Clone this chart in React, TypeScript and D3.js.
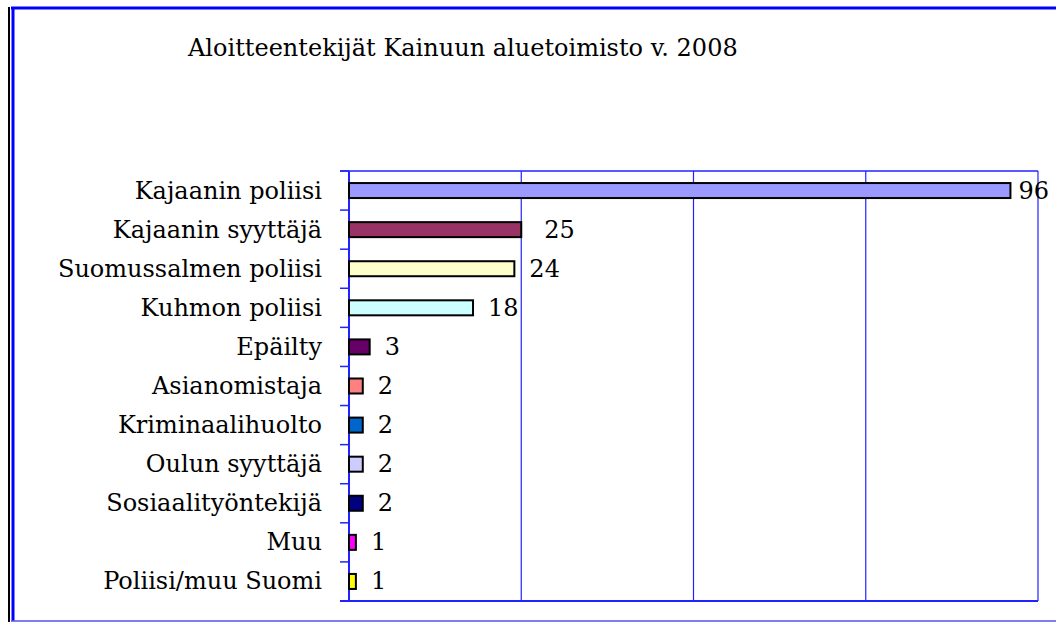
import React from "react";
import * as d3 from "d3";

const categories = [
  "Kajaanin poliisi",
  "Kajaanin syyttäjä",
  "Suomussalmen poliisi",
  "Kuhmon poliisi",
  "Epäilty",
  "Asianomistaja",
  "Kriminaalihuolto",
  "Oulun syyttäjä",
  "Sosiaalityöntekijä",
  "Muu",
  "Poliisi/muu Suomi",
];
const values = [96, 25, 24, 18, 3, 2, 2, 2, 2, 1, 1];
const colors = [
  "#9999FF", "#993366", "#FFFFCC", "#CCFFFF", "#660066", "#FF8080",
  "#0066CC", "#CCCCFF", "#000080", "#FF00FF", "#FFFF00",
];
const xTicks = [0, 25, 50, 75, 100];
const title = "Aloitteentekijät Kainuun aluetoimisto v. 2008";

const W = 1056, H = 622;
const plot = { left: 349, right: 1038, top: 171, bottom: 601 };
const FONT = "'DejaVu Serif', 'Liberation Serif', serif";

export default function App() {
  const x = d3.scaleLinear().domain([0, 100]).range([plot.left, plot.right]);
  const band = d3.scaleBand().domain(categories).range([plot.top, plot.bottom]);
  const boundaries = d3.range(categories.length + 1).map((i) => plot.top + i * band.step());
  return (
    <svg width={W} height={H} style={{ position: "absolute", left: 0, top: 0 }} fontFamily={FONT}>
      <rect x={0} y={0} width={W} height={H} fill="#fff" />
      <line x1={9} x2={9} y1={7} y2={H} stroke="#000" strokeWidth={2} />
      <line x1={13} x2={13} y1={7} y2={621} stroke="#0000FF" strokeWidth={3} />
      <line x1={11} x2={W} y1={8} y2={8} stroke="#0000FF" strokeWidth={3} />
      <line x1={11} x2={W} y1={621} y2={621} stroke="#5555EE" strokeWidth={1.5} />
      <text x={188} y={56} fontSize={24} fill="#000">{title}</text>
      {xTicks.slice(1).map((t) => (
        <line key={t} x1={x(t)} x2={x(t)} y1={plot.top} y2={plot.bottom} stroke="#2222FF" strokeWidth={1.2} />
      ))}
      <line x1={plot.left - 9} x2={plot.right} y1={plot.top} y2={plot.top} stroke="#2222FF" strokeWidth={1.5} />
      <line x1={plot.left - 9} x2={plot.right} y1={plot.bottom} y2={plot.bottom} stroke="#2222FF" strokeWidth={2} />
      <line x1={plot.left} x2={plot.left} y1={plot.top} y2={plot.bottom} stroke="#2222FF" strokeWidth={2} />
      {boundaries.map((b, i) => (
        <line key={i} x1={plot.left - 9} x2={plot.left} y1={b} y2={b} stroke="#2222FF" strokeWidth={1.5} />
      ))}
      {categories.map((c, i) => {
        const cy = band(c)! + band.bandwidth() / 2;
        const bh = 15;
        return (
          <g key={c}>
            <rect x={x(0)} y={cy - bh / 2} width={x(values[i]) - x(0)} height={bh} fill={colors[i]} stroke="#000" strokeWidth={2} />
            <text x={plot.left - 27} y={cy + 8} textAnchor="end" fontSize={24} fill="#000">{c}</text>
            <text x={x(values[i]) + (values[i] === 25 ? 23 : values[i] === 96 ? 8 : 15)} y={cy + 8} fontSize={24} fill="#000">{values[i]}</text>
          </g>
        );
      })}
    </svg>
  );
}
